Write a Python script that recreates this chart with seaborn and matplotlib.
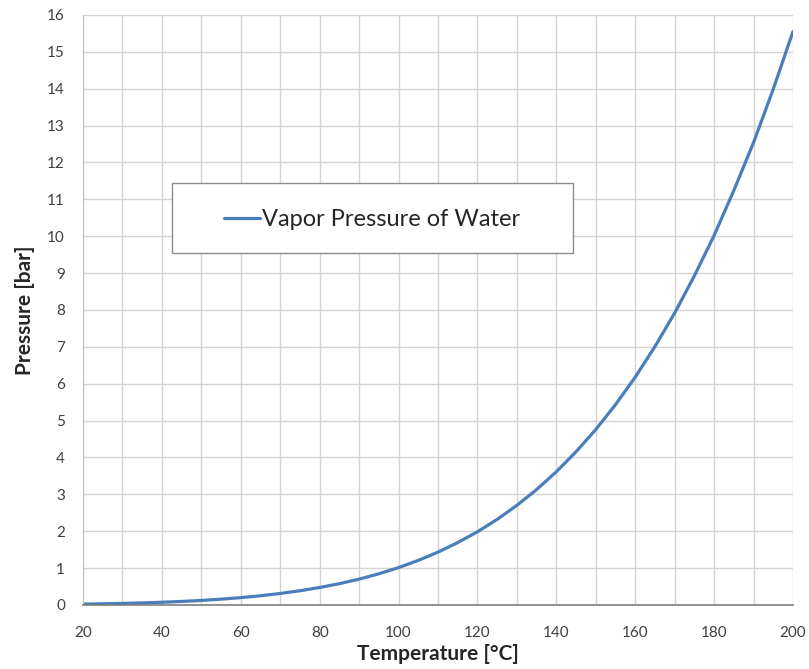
import matplotlib
matplotlib.use("Agg")
import matplotlib.pyplot as plt
import seaborn as sns
import pandas as pd
from matplotlib.ticker import MultipleLocator
from matplotlib.patches import Rectangle

# Vapor pressure of water (5 degree steps)
temperature_c = [20, 25, 30, 35, 40, 45, 50, 55, 60, 65, 70, 75, 80, 85, 90, 95,
                 100, 105, 110, 115, 120, 125, 130, 135, 140, 145, 150, 155,
                 160, 165, 170, 175, 180, 185, 190, 195, 200]
pressure_bar = [0.023, 0.032, 0.042, 0.056, 0.074, 0.096, 0.123, 0.158, 0.199,
                0.250, 0.312, 0.386, 0.474, 0.578, 0.701, 0.846, 1.013, 1.209,
                1.433, 1.692, 1.985, 2.322, 2.701, 3.130, 3.613, 4.155, 4.758,
                5.433, 6.178, 7.008, 7.917, 8.926, 10.02, 11.24, 12.54, 13.99,
                15.55]
x_ticks = [20, 40, 60, 80, 100, 120, 140, 160, 180, 200]
y_ticks = list(range(0, 17))

df = pd.DataFrame({"Temperature": temperature_c, "Pressure": pressure_bar})

sns.set_style("white")
plt.rcParams['font.family'] = ['Lato', 'DejaVu Sans']

fig = plt.figure(figsize=(8.09, 6.69), dpi=100)
ax = fig.add_axes([0.1026, 0.0957, 0.8776, 0.8819])

sns.lineplot(data=df, x="Temperature", y="Pressure", ax=ax, color="#4a7ebb",
             linewidth=2.3, label="Vapor Pressure of Water")

ax.set_xlim(20, 200)
ax.set_ylim(0, 16)
ax.set_xticks(x_ticks)
ax.set_yticks(y_ticks)
ax.xaxis.set_minor_locator(MultipleLocator(10))
ax.grid(True, which="major", axis="y", color="#d4d4d4", linewidth=1)
ax.grid(True, which="both", axis="x", color="#d4d4d4", linewidth=1)
ax.set_axisbelow(True)

for side in ["top", "right"]:
    ax.spines[side].set_visible(False)
ax.spines["left"].set_color("#bfbfbf")
ax.spines["bottom"].set_color("#7f7f7f")
ax.spines["bottom"].set_linewidth(1.2)

ax.tick_params(axis="y", which="major", length=5, color="#bfbfbf", labelsize=11,
               labelcolor="#404040", direction="out", pad=8)
ax.tick_params(axis="x", which="major", length=5, color="#7f7f7f", labelsize=11,
               labelcolor="#404040", direction="out", pad=10)
ax.tick_params(axis="x", which="minor", length=0)

ax.set_xlabel("Temperature [°C]", fontsize=15, fontweight="bold", color="#262626", labelpad=3)
ax.set_ylabel("Pressure [bar]", fontsize=15, fontweight="bold", color="#262626", labelpad=9)

# legend box drawn as a plain rectangle, legend text centred in it
box = Rectangle((0.125, 0.5966), 0.565, 0.1187, transform=ax.transAxes,
                facecolor="white", edgecolor="#8c8c8c", linewidth=1, zorder=4)
ax.add_patch(box)
leg = ax.legend(loc="center", bbox_to_anchor=(0.4075, 0.653), frameon=False,
                fontsize=17, handlelength=1.5, handletextpad=0.1)
leg.set_zorder(5)
for t in leg.get_texts():
    t.set_color("#262626")

fig.savefig("out.png", dpi=100)
